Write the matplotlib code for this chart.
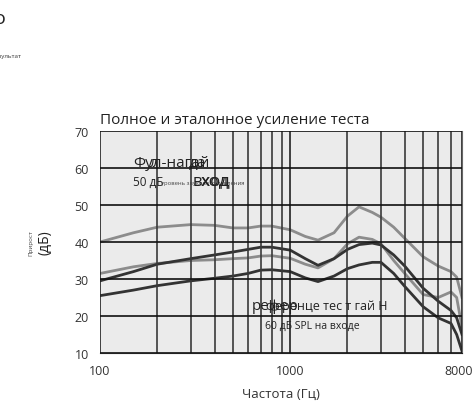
import matplotlib
matplotlib.use('Agg')
import matplotlib.pyplot as plt
import matplotlib.transforms as mtransforms
from matplotlib.ticker import FixedLocator, NullFormatter
import numpy as np

plt.rcParams['font.family'] = ['Open Sans', 'DejaVu Sans']

# frequency points (Hz) shared by all curves
freqs = [100, 150, 200, 300, 400, 500, 600, 700, 800, 1000, 1200, 1400, 1700,
         2000, 2300, 2700, 3000, 3500, 4000, 5000, 6000, 7000, 7500, 8000]

# full-on gain, 50 dB input (upper light curve)
full_on_a = [40, 42.5, 44, 44.7, 44.5, 43.8, 43.8, 44.3, 44.3, 43.3, 41.5, 40.5, 42.5,
             47, 49.5, 48, 46.7, 44, 41, 36, 33.5, 32, 30.5, 25]
# second light curve
full_on_b = [31.5, 33.3, 34.2, 35, 35.2, 35.5, 35.7, 36.2, 36.3, 35.6, 34, 33, 35.5,
             39.5, 41.3, 40.7, 39.5, 35, 31.5, 25.8, 25, 26.5, 25, 17]
# reference test gain, dark curves
ref_a = [29.5, 32, 34, 35.5, 36.5, 37.3, 38, 38.6, 38.6, 37.8, 35.5, 33.7, 35.5,
         38, 39.3, 39.7, 39.2, 36.5, 33.5, 27.5, 24, 21.5, 19.5, 15]
ref_b = [25.5, 27, 28.2, 29.5, 30.2, 30.8, 31.5, 32.4, 32.5, 32, 30.3, 29.3, 30.8,
         32.8, 33.8, 34.5, 34.5, 31.5, 28, 22.5, 19.5, 18, 15, 10.5]

xticks = [100, 1000, 8000]
xticklabels = ['100', '1000', '8000']
yticks = [10, 20, 30, 40, 50, 60, 70]
minor_x = [200, 300, 400, 500, 600, 700, 800, 900, 2000, 3000, 4000, 5000, 6000, 7000]

fig = plt.figure(figsize=(4.73, 4.14), dpi=100)
ax = fig.add_axes([100/473, 60/414, 362/473, 222/414])
ax.set_facecolor('#ebebeb')

ax.plot(freqs, full_on_a, color='#8c8c8c', lw=2)
ax.plot(freqs, full_on_b, color='#8c8c8c', lw=2)
ax.plot(freqs, ref_a, color='#333333', lw=2)
ax.plot(freqs, ref_b, color='#333333', lw=2)

ax.set_xscale('log')
ax.set_xlim(100, 8000)
ax.set_ylim(10, 70)
ax.xaxis.set_major_locator(FixedLocator(xticks))
ax.set_xticklabels(xticklabels)
ax.xaxis.set_minor_locator(FixedLocator(minor_x))
ax.xaxis.set_minor_formatter(NullFormatter())
ax.set_yticks(yticks)
ax.tick_params(which='both', length=0, labelsize=9, colors='#333333', pad=8)
ax.grid(which='major', axis='y', color='#111111', lw=1.2)
ax.grid(which='major', axis='x', color='#222222', lw=1.2)
ax.grid(which='minor', axis='x', color='#3a3a3a', lw=1.2)
ax.set_axisbelow(False)
for s in ax.spines.values():
    s.set_visible(False)
ax.spines['bottom'].set_visible(True)
ax.spines['bottom'].set_color('#222222')
ax.spines['right'].set_visible(True)
ax.spines['right'].set_color('#666666')

# nudge the last x label so it stays inside the picture
lab = ax.get_xticklabels()[-1]
lab.set_transform(lab.get_transform() +
                  mtransforms.ScaledTranslation(-3/100, 0, fig.dpi_scale_trans))

ax.set_title('Полное и эталонное усиление теста', loc='left', fontsize=11,
             color='#222222', pad=6)
ax.set_xlabel('Частота (Гц)', fontsize=9.5, color='#333333', labelpad=7)

# y label: tiny word plus units
fig.text(31/473, 1 - 243/414, 'Прирост', rotation=90, fontsize=4.5,
         ha='center', va='center', color='#444444')
fig.text(45/473, 1 - 243/414, '(дБ)', rotation=90, fontsize=10,
         ha='center', va='center', color='#222222')

# clipped texts at top left
fig.text(-6/473, 1 - 19/414, 'o', fontsize=14, ha='left', va='center', color='#222222')
fig.text(21/473, 1 - 57/414, 'Результат', fontsize=4.5, ha='right', va='center',
         color='#333333')

# overlapping annotations (pixel placed)
def ptxt(px, py, s, color='#222222', **kw):
    fig.text(px/473, 1 - py/414, s, va='center', color=color, **kw)

ptxt(133, 164, 'Фул-нагай', fontsize=11)
ptxt(150, 164, 'л', fontsize=11)
ptxt(189, 164, 'да', fontsize=11)
ptxt(133, 182, '50 дБ', fontsize=8.5)
ptxt(161, 184, 'уровень звукового давления', fontsize=4.2, color='#444444')
ptxt(193, 181, 'вход', fontsize=12)
ptxt(201, 181, 'ход', fontsize=12)

ptxt(252, 307, 'рефер', fontsize=11)
ptxt(266, 307, 'ференце тес т гай Н', fontsize=9)
ptxt(265, 326, '60 дБ SPL на входе', fontsize=7.5)

fig.savefig('out.png', dpi=100)
